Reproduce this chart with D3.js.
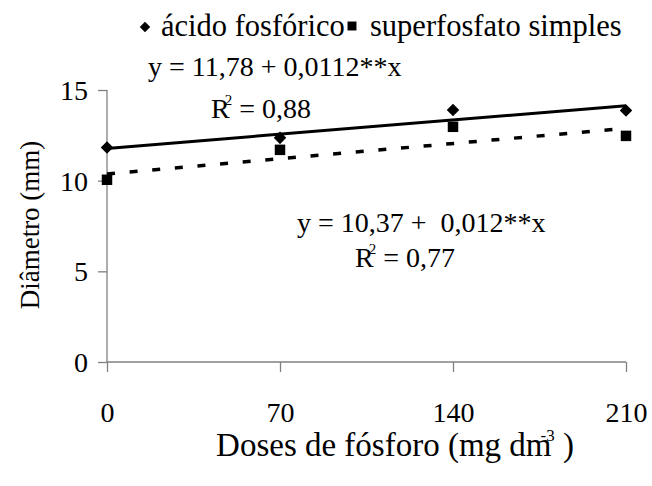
<!DOCTYPE html>
<html>
<head>
<meta charset="utf-8">
<script src="https://cdn.jsdelivr.net/npm/d3@7"></script>
<style>
  body { margin: 0; background: #fff; }
</style>
</head>
<body>
<div id="chart"></div>
<script>
// data
var doses = [0, 70, 140, 210];
var yTicks = [0, 5, 10, 15];
var acido = [11.83, 12.36, 13.9, 13.87];
var superf = [10.05, 11.7, 12.97, 12.47];
var regAcido = [11.78, 0.0112];
var regSuper = [10.37, 0.012];
var seriesNames = ["ácido fosfórico", "superfosfato simples"];

var width = 652,
    height = 486;
var font = "'Liberation Serif', 'Times New Roman', serif";

var svg = d3.select("#chart").append("svg")
    .attr("width", width)
    .attr("height", height)
    .attr("font-family", font)
    .attr("font-size", 28);

var x = d3.scaleLinear().domain([0, 210]).range([107, 626]);
var y = d3.scaleLinear().domain([0, 15]).range([362, 90]);

var axisColor = "#808080";

// y axis
var yAxis = svg.append("g")
    .attr("transform", "translate(" + x(0) + ",0)")
    .call(d3.axisLeft(y).tickValues(yTicks).tickSize(9).tickPadding(10).tickFormat(d3.format("d")));
yAxis.attr("font-family", font).attr("font-size", 28);
yAxis.select(".domain").attr("stroke", axisColor).attr("stroke-width", 1.3).attr("d", "M0," + y(15) + "V" + y(0));
yAxis.selectAll(".tick line").attr("stroke", axisColor).attr("stroke-width", 1.3);
yAxis.selectAll(".tick text").attr("dy", "0.34em");

// x axis
var xAxis = svg.append("g")
    .attr("transform", "translate(0," + y(0) + ")")
    .call(d3.axisBottom(x).tickValues(doses).tickSize(10).tickPadding(30).tickFormat(d3.format("d")));
xAxis.attr("font-family", font).attr("font-size", 28);
xAxis.select(".domain").attr("stroke", axisColor).attr("stroke-width", 1.3).attr("d", "M" + x(0) + ",0H" + x(210));
xAxis.selectAll(".tick line").attr("stroke", axisColor).attr("stroke-width", 1.3);

// trend lines
var line = d3.line().x(function(d) { return x(d[0]); }).y(function(d) { return y(d[1]); });
function trend(c) { return [[0, c[0]], [210, c[0] + c[1] * 210]]; }

svg.append("path")
    .attr("d", line(trend(regSuper)))
    .attr("fill", "none")
    .attr("stroke", "#000")
    .attr("stroke-width", 3.5)
    .attr("stroke-dasharray", "8,14.7");

svg.append("path")
    .attr("d", line(trend(regAcido)))
    .attr("fill", "none")
    .attr("stroke", "#000")
    .attr("stroke-width", 3);

// markers
var diamond = d3.symbol().type(d3.symbolDiamond2).size(100);
var square = d3.symbol().type(d3.symbolSquare).size(110);

svg.selectAll(".pt-super")
    .data(doses)
  .enter().append("path")
    .attr("class", "pt-super")
    .attr("d", square)
    .attr("transform", function(d, i) { return "translate(" + x(d) + "," + y(superf[i]) + ")"; });

svg.selectAll(".pt-acido")
    .data(doses)
  .enter().append("path")
    .attr("class", "pt-acido")
    .attr("d", diamond)
    .attr("transform", function(d, i) { return "translate(" + x(d) + "," + y(acido[i]) + ")"; });

// equations
function equation(xp, yp, txt, rx, ry, r2) {
  svg.append("text")
      .attr("x", xp).attr("y", yp)
      .style("white-space", "pre")
      .text(txt);
  var t = svg.append("text")
      .attr("x", rx).attr("y", ry);
  t.append("tspan").text("R");
  t.append("tspan").attr("dx", -5).attr("dy", -13).attr("font-size", 15).text("2");
  t.append("tspan").attr("dy", 13).text(" = " + r2);
}
equation(148, 76, "y = 11,78 + 0,0112**x", 211, 118, "0,88");
equation(297, 232, "y = 10,37 +  0,012**x", 355, 267, "0,77");

// legend
var legend = svg.append("g").attr("font-size", 30.5);
legend.append("path").attr("d", d3.symbol().type(d3.symbolDiamond2).size(70))
    .attr("transform", "translate(145,27)");
legend.append("text").attr("x", 161).attr("y", 36).text(seriesNames[0]);
legend.append("path").attr("d", d3.symbol().type(d3.symbolSquare).size(80))
    .attr("transform", "translate(352,26)");
legend.append("text").attr("x", 370).attr("y", 36).text(seriesNames[1]);

// axis titles
svg.append("text")
    .attr("transform", "translate(39,225) rotate(-90)")
    .attr("text-anchor", "middle")
    .attr("font-size", 27)
    .text("Diâmetro (mm)");

var xt = svg.append("text")
    .attr("x", 395).attr("y", 456)
    .attr("font-size", 33)
    .attr("text-anchor", "middle");
xt.append("tspan").text("Doses de fósforo (mg dm");
xt.append("tspan").attr("dx", -11).attr("dy", -15).attr("font-size", 17).text("-3");
xt.append("tspan").attr("dy", 15).text(" )");
</script>
</body>
</html>
